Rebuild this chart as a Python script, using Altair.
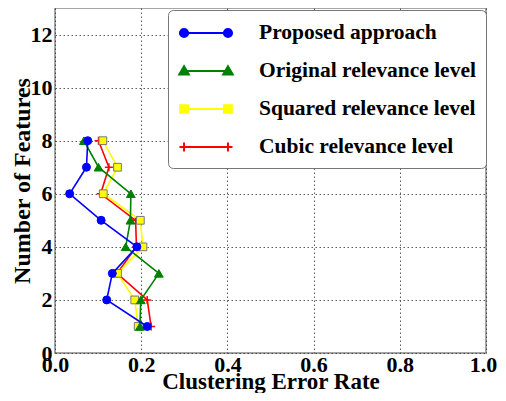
import altair as alt
import pandas as pd

# ---- data ----
features = [1, 2, 3, 4, 5, 6, 7, 8]
proposed = [0.214, 0.120, 0.133, 0.190, 0.107, 0.034, 0.073, 0.076]
original = [0.197, 0.199, 0.241, 0.164, 0.175, 0.176, 0.101, 0.067]
squared = [0.193, 0.185, 0.145, 0.204, 0.198, 0.112, 0.145, 0.111]
cubic = [0.223, 0.214, 0.144, 0.189, 0.187, 0.106, 0.125, 0.101]

series_names = ["Proposed approach", "Original relevance level",
                "Squared relevance level", "Cubic relevance level"]
series_values = [proposed, original, squared, cubic]
x_ticks = [0.0, 0.2, 0.4, 0.6, 0.8, 1.0]
y_ticks = [0, 2, 4, 6, 8, 10, 12]

# ---- styles ----
colors = ["#0000ff", "#008000", "#ffff00", "#ff0000"]
edges = ["#0000ff", "#008000", "#777777", "#ff0000"]
PLUS = "M-1,0L1,0M0,-1L0,1"
marker_shapes = ["circle", "triangle-up", "square", PLUS]
marker_sizes = [64, 76, 60, 64]
FONT = "Liberation Serif"

rows = []
for name, vals in zip(series_names, series_values):
    for f, v in zip(features, vals):
        rows.append({"series": name, "error": v, "features": f})
df = pd.DataFrame(rows)

# legend symbol paths (line with a marker at each end)
a, b = -0.58, 3.08
r = 0.34


def circ(cx):
    return f"M{cx + r},0A{r},{r} 0 1,0 {cx - r},0A{r},{r} 0 1,0 {cx + r},0Z"


def tri(cx):
    t = 0.4
    return f"M{cx},{-t}L{cx + t},{t * 0.75}L{cx - t},{t * 0.75}Z"


def sq(cx):
    s = 0.32
    return f"M{cx - s},{-s}L{cx + s},{-s}L{cx + s},{s}L{cx - s},{s}Z"


def plus(cx):
    p = 0.38
    return f"M{cx - p},0L{cx + p},0M{cx},{-p}L{cx},{p}"


line_path = f"M{a},0L{b},0"
legend_paths = [line_path + fn(a) + fn(b) for fn in (circ, tri, sq, plus)]

xenc = alt.X("error:Q", scale=alt.Scale(domain=[0, 1], nice=False, zero=False),
             axis=alt.Axis(values=x_ticks, format=".1f", title="Clustering Error Rate",
                           labelPadding=1, titleFontSize=23,
                           labelOffset={"condition": {"test": "datum.value == 1", "value": -3},
                                        "value": 0},
                           titleBaseline="alphabetic", titleY=35))
yenc = alt.Y("features:Q", scale=alt.Scale(domain=[0, 13], nice=False, zero=False),
             axis=alt.Axis(values=y_ticks, format="d", title="Number of Features",
                           labelPadding=3, titleFontSize=24,
                           titleBaseline="alphabetic", titleX=-26))

layers = []
for i in [3, 2, 1, 0]:
    name = series_names[i]
    base = alt.Chart(df).transform_filter(alt.datum.series == name)
    layers.append(
        base.mark_line(color=colors[i], strokeWidth=1.6).encode(
            x=xenc, y=yenc, order=alt.Order("features:Q"))
    )
    if marker_shapes[i] == PLUS:
        pt = base.mark_point(shape=PLUS, size=marker_sizes[i], filled=False,
                             stroke=colors[i], strokeWidth=1.5, opacity=1)
    else:
        pt = base.mark_point(shape=marker_shapes[i], size=marker_sizes[i], filled=True,
                             fill=colors[i], stroke=edges[i], strokeWidth=1,
                             opacity=1, fillOpacity=1)
    layers.append(pt.encode(x=xenc, y=yenc))

legend_cfg = dict(
    orient="none", legendX=113, legendY=2, title=None, padding=10,
    symbolSize=576, labelOffset=55, rowPadding=14,
    fillColor="white", strokeColor="#777777", cornerRadius=5,
    labelFont=FONT, labelFontSize=21.5, labelFontWeight="bold", labelColor="black",
    labelLimit=400, symbolStrokeWidth=2, symbolOpacity=1,
)

legend_layer = alt.Chart(df).transform_filter("datum.features < 0").mark_point(
    opacity=1, strokeWidth=2, fillOpacity=1).encode(
    x=xenc, y=yenc,
    shape=alt.Shape("series:N", scale=alt.Scale(domain=series_names, range=legend_paths),
                    legend=alt.Legend(**legend_cfg)),
    fill=alt.Fill("series:N", scale=alt.Scale(domain=series_names, range=colors),
                  legend=alt.Legend(**legend_cfg)),
    stroke=alt.Stroke("series:N", scale=alt.Scale(domain=series_names, range=colors),
                      legend=alt.Legend(**legend_cfg)),
)

chart = alt.layer(*layers, legend_layer).properties(
    width=431, height=345,
    autosize=alt.AutoSizeParams(type="none"),
    padding={"left": 47, "top": 0, "right": 12, "bottom": 40},
    background="white",
).configure_view(
    stroke="#888888", strokeWidth=1.5
).configure_axis(
    grid=True, gridColor="#333333", gridDash=[1.5, 2.5], gridWidth=0.8,
    ticks=False, domain=False, labelFlush=False,
    labelFont=FONT, labelFontSize=22, labelFontWeight="bold", labelColor="black",
    titleFont=FONT, titleFontWeight="bold", titleColor="black",
)

chart.save("out.html", embed_options={"renderer": "svg", "actions": False})
